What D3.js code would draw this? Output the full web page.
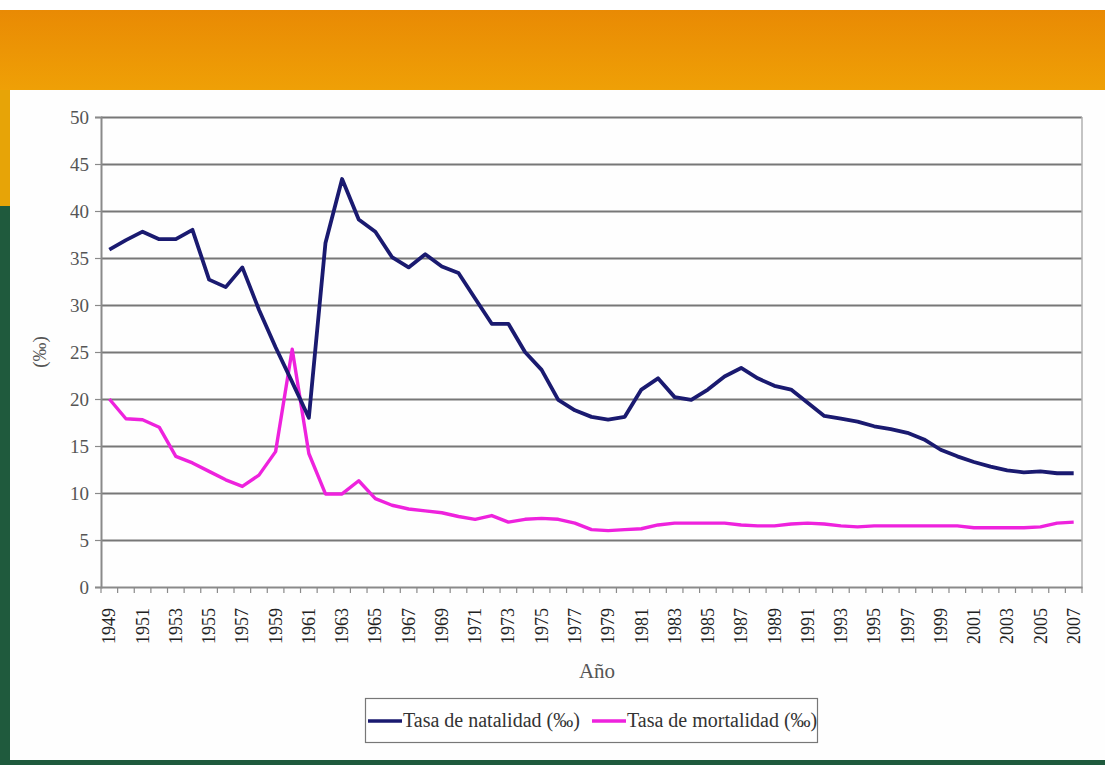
<!DOCTYPE html>
<html>
<head>
<meta charset="utf-8">
<script src="https://cdn.jsdelivr.net/npm/d3@7"></script>
<style>
  html, body { margin: 0; padding: 0; background: #fff; }
  svg { display: block; }
</style>
</head>
<body>
<svg id="chart" width="1105" height="765"></svg>
<script>
const years = [1949,1950,1951,1952,1953,1954,1955,1956,1957,1958,1959,1960,1961,1962,1963,1964,1965,1966,1967,1968,1969,1970,1971,1972,1973,1974,1975,1976,1977,1978,1979,1980,1981,1982,1983,1984,1985,1986,1987,1988,1989,1990,1991,1992,1993,1994,1995,1996,1997,1998,1999,2000,2001,2002,2003,2004,2005,2006,2007];
const natalidad = [35.9,36.9,37.8,37.0,37.0,38.0,32.7,31.9,34.0,29.5,25.5,21.8,18.0,36.6,43.4,39.1,37.8,35.1,34.0,35.4,34.1,33.4,30.7,28.0,28.0,25.0,23.1,19.9,18.8,18.1,17.8,18.1,21.0,22.2,20.2,19.9,21.0,22.4,23.3,22.2,21.4,21.0,19.6,18.2,17.9,17.6,17.1,16.8,16.4,15.7,14.6,13.9,13.3,12.8,12.4,12.2,12.3,12.1,12.1];
const mortalidad = [20.0,17.9,17.8,17.0,13.9,13.2,12.3,11.4,10.7,11.9,14.4,25.3,14.2,9.9,9.9,11.3,9.4,8.7,8.3,8.1,7.9,7.5,7.2,7.6,6.9,7.2,7.3,7.2,6.8,6.1,6.0,6.1,6.2,6.6,6.8,6.8,6.8,6.8,6.6,6.5,6.5,6.7,6.8,6.7,6.5,6.4,6.5,6.5,6.5,6.5,6.5,6.5,6.3,6.3,6.3,6.3,6.4,6.8,6.9];
const yTicks = [0,5,10,15,20,25,30,35,40,45,50];
const seriesNames = ["Tasa de natalidad (‰)", "Tasa de mortalidad (‰)"];
const seriesColors = ["#1a1a70", "#ee22dd"];

(function () {
const svg = d3.select("#chart");
const W = 1105, H = 765;
const font = "'Liberation Serif', 'Times New Roman', serif";

// ---- slide background ----
const defs = svg.append("defs");
const og = defs.append("linearGradient").attr("id","og").attr("x1",0).attr("y1",0).attr("x2",0).attr("y2",1);
og.append("stop").attr("offset","0%").attr("stop-color","#e98a04");
og.append("stop").attr("offset","100%").attr("stop-color","#efa006");
svg.append("rect").attr("x",0).attr("y",0).attr("width",W).attr("height",H).attr("fill","#ffffff");
svg.append("rect").attr("x",0).attr("y",10).attr("width",W).attr("height",80).attr("fill","url(#og)");
svg.append("rect").attr("x",0).attr("y",90).attr("width",10).attr("height",116).attr("fill","#e7a407");
svg.append("rect").attr("x",0).attr("y",206).attr("width",10).attr("height",H-206).attr("fill","#1f5a3d");
svg.append("rect").attr("x",0).attr("y",760).attr("width",W).attr("height",5).attr("fill","#1f5a3d");
svg.append("rect").attr("x",10).attr("y",90).attr("width",W-10).attr("height",670).attr("fill","#fefefe");

// ---- scales ----
const pLeft = 101, pRight = 1082, pTop = 117, pBottom = 587;
const x = d3.scaleBand().domain(years.map(String)).range([pLeft, pRight]).padding(0);
const y = d3.scaleLinear().domain([0, 50]).range([pBottom, pTop]);
const bw = x.bandwidth();
const cx = yr => x(String(yr)) + bw / 2;

// gridlines
const grid = svg.append("g").attr("transform", `translate(${pLeft},0)`)
  .call(d3.axisLeft(y).tickValues(yTicks.filter(v => v > 0)).tickSize(-(pRight - pLeft)).tickFormat(""));
grid.select(".domain").remove();
grid.selectAll(".tick line").attr("stroke", "#777").attr("stroke-width", 1.8);

// y axis
const yAxis = d3.axisLeft(y).tickValues(yTicks).tickSize(6).tickPadding(6).tickFormat(d3.format("d"));
const yg = svg.append("g").attr("transform", `translate(${pLeft},0)`).call(yAxis);
yg.select(".domain").attr("stroke", "#8a8a8a").attr("stroke-width", 2);
yg.selectAll(".tick line").attr("stroke", "#8a8a8a").attr("stroke-width", 1.2);
yg.selectAll(".tick text").attr("font-family", font).attr("font-size", 19).attr("fill", "#555");

// right border of plot
svg.append("line").attr("x1", pRight).attr("x2", pRight).attr("y1", pTop).attr("y2", pBottom)
  .attr("stroke", "#b0b0b0").attr("stroke-width", 1.5);

// x axis
const xAxis = d3.axisBottom(x).tickSize(0).tickPadding(0)
  .tickFormat(d => (+d % 2 === 1) ? d : "");
const xg = svg.append("g").attr("transform", `translate(0,${pBottom})`).call(xAxis);
xg.select(".domain").attr("stroke", "#8a8a8a").attr("stroke-width", 2);
xg.selectAll(".tick text")
  .attr("font-family", font).attr("font-size", 18).attr("fill", "#222")
  .attr("text-anchor", "end").attr("dy", null).attr("y", null)
  .attr("transform", "translate(2,21) rotate(-90)")
  .attr("dominant-baseline", "middle");
// boundary tick marks between categories
const bounds = years.map(yr => x(String(yr))).concat([x(String(years[years.length - 1])) + bw]);
svg.append("g").selectAll("line").data(bounds).join("line")
  .attr("x1", d => d).attr("x2", d => d).attr("y1", pBottom).attr("y2", pBottom + 6)
  .attr("stroke", "#8a8a8a").attr("stroke-width", 1.2);

// axis titles
svg.append("text").attr("transform", "translate(46,352) rotate(-90)")
  .attr("text-anchor", "middle").attr("font-family", font).attr("font-size", 19).attr("fill", "#555")
  .text("(‰)");
svg.append("text").attr("x", 597).attr("y", 678)
  .attr("text-anchor", "middle").attr("font-family", font).attr("font-size", 21).attr("fill", "#555")
  .text("Año");

// lines
const line = d3.line().x((d, i) => cx(years[i])).y(d => y(d));
svg.append("path").datum(mortalidad).attr("d", line).attr("fill", "none")
  .attr("stroke", seriesColors[1]).attr("stroke-width", 3.4).attr("stroke-linejoin", "round");
svg.append("path").datum(natalidad).attr("d", line).attr("fill", "none")
  .attr("stroke", seriesColors[0]).attr("stroke-width", 3.8).attr("stroke-linejoin", "round");

// legend
const lg = svg.append("g");
lg.append("rect").attr("x", 365.5).attr("y", 698.5).attr("width", 452).attr("height", 44)
  .attr("fill", "#fff").attr("stroke", "#777").attr("stroke-width", 1.2);
const legendX = [368, 592];
seriesNames.forEach((name, i) => {
  lg.append("line").attr("x1", legendX[i]).attr("x2", legendX[i] + 34).attr("y1", 721).attr("y2", 721)
    .attr("stroke", seriesColors[i]).attr("stroke-width", 3.5);
  lg.append("text").attr("x", legendX[i] + 35).attr("y", 727)
    .attr("font-family", font).attr("font-size", 20).attr("fill", "#333").text(name);
});
})();
</script>
</body>
</html>
